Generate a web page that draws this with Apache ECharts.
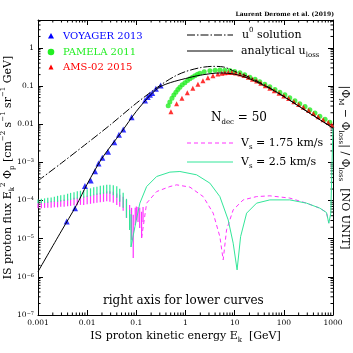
<!DOCTYPE html>
<html><head><meta charset="utf-8">
<script src="https://cdn.jsdelivr.net/npm/echarts@6/dist/echarts.min.js"></script>
<style>html,body{margin:0;padding:0;background:#fff}#c{width:353px;height:353px}</style>
</head><body><div id="c"></div>
<script>
// ---------- tick labels ----------
const xTickExp = [-3, -2, -1, 0, 1, 2, 3];
const xTickText = ['0.001', '0.01', '0.1', '1', '10', '100', '1000'];
const yTickExp = [-7, -6, -5, -4, -3, -2, -1, 0];
const yTickText = ['{b|10}{s|−7}', '{b|10}{s|−6}', '{b|10}{s|−5}', '{b|10}{s|−4}', '{b|10}{s|−3}', '0.01', '0.1', '1'];

// ---------- model curves (left axis) ----------
const u0E = [0.001, 0.003, 0.01, 0.03, 0.1, 0.3, 0.6, 1, 2, 3.6, 6, 10, 20, 50, 100, 300, 1000];
const u0V = [3.3e-4, 9.6e-4, 3.2e-3, 9.8e-3, 0.0356, 0.103, 0.18, 0.24, 0.304, 0.329, 0.316, 0.243, 0.17, 0.092, 0.054, 0.0215, 0.008];
const lossE = [0.001, 0.003, 0.006, 0.01, 0.02, 0.05, 0.1, 0.2, 0.3, 0.5, 1, 2, 5, 10, 20, 50, 100, 300, 1000];
const lossV = [1.37e-6, 1.6e-5, 7.4e-5, 2.7e-4, 1.28e-3, 6.3e-3, 0.0218, 0.061, 0.095, 0.124, 0.158, 0.193, 0.221, 0.205, 0.156, 0.089, 0.053, 0.0213, 0.0079];

// ---------- data ----------
const voyE = [0.00383, 0.00565, 0.00902, 0.01178, 0.01442, 0.0170, 0.0203, 0.0265, 0.0356, 0.0443, 0.0542, 0.0801, 0.150, 0.170, 0.189, 0.210, 0.250, 0.312];
const voyV = [2.81e-5, 6.24e-5, 2.39e-4, 3.33e-4, 5.83e-4, 9.3e-4, 1.32e-3, 1.90e-3, 3.37e-3, 5.3e-3, 7.3e-3, 0.0153, 0.0422, 0.0518, 0.0594, 0.0659, 0.0855, 0.104];
const pamE = [0.445, 0.48, 0.53, 0.58, 0.638, 0.70, 0.769, 0.86, 0.973, 1.10, 1.23, 1.38, 1.55, 1.75, 1.96, 2.4, 3.13, 4.0, 5.0, 6.3, 7.98, 10.0, 12.8, 16, 20.4, 26, 32.5, 41, 51.9, 66, 83, 105, 132, 168, 211, 270, 338, 430, 540, 690, 861];
const pamV = [0.0306, 0.038, 0.0481, 0.058, 0.0692, 0.081, 0.0935, 0.108, 0.123, 0.140, 0.156, 0.171, 0.187, 0.203, 0.218, 0.237, 0.254, 0.262, 0.265, 0.262, 0.256, 0.243, 0.225, 0.199, 0.171, 0.150, 0.130, 0.112, 0.0964, 0.082, 0.0692, 0.059, 0.0497, 0.0415, 0.0345, 0.029, 0.0240, 0.0198, 0.0162, 0.0135, 0.0113];
const amsE = [0.505, 0.659, 0.846, 1.09, 1.41, 1.79, 2.26, 2.85, 3.61, 4.56, 5.5, 6.32, 7.4, 8.77, 10.5, 12.8, 15.5, 19, 23, 28, 34, 42, 52, 64, 80, 100, 125, 160, 200, 250, 320, 400, 500, 630, 800, 950];
const amsV = [0.0213, 0.0345, 0.0481, 0.0671, 0.0881, 0.112, 0.139, 0.166, 0.187, 0.208, 0.218, 0.225, 0.228, 0.228, 0.22, 0.208, 0.19, 0.171, 0.152, 0.135, 0.118, 0.102, 0.088, 0.076, 0.065, 0.055, 0.047, 0.039, 0.033, 0.0278, 0.0228, 0.019, 0.0158, 0.0132, 0.0111, 0.0095];

// ---------- lower curves (right axis) ----------
const bandE = [0.001, 0.00117, 0.00136, 0.00158, 0.00185, 0.00215, 0.0025, 0.0029, 0.0034, 0.004, 0.0046, 0.0054, 0.0063, 0.0073, 0.0085, 0.01, 0.0117, 0.0136, 0.0158, 0.0185, 0.0215, 0.025, 0.029, 0.034, 0.04, 0.046, 0.054, 0.063, 0.073, 0.078];
const greenHi = [1.07e-4, 1.11e-4, 1.14e-4, 1.18e-4, 1.21e-4, 1.25e-4, 1.33e-4, 1.37e-4, 1.41e-4, 1.50e-4, 1.59e-4, 1.64e-4, 1.74e-4, 1.80e-4, 1.85e-4, 1.97e-4, 2.09e-4, 2.22e-4, 2.29e-4, 2.43e-4, 2.50e-4, 2.58e-4, 2.58e-4, 2.50e-4, 2.36e-4, 2.03e-4, 1.59e-4, 1.11e-4, 5.7e-5, 4.4e-5];
const greenLo = [8.5e-5, 8.5e-5, 8.7e-5, 8.7e-5, 9.0e-5, 9.25e-5, 9.25e-5, 9.5e-5, 9.8e-5, 1.01e-4, 1.04e-4, 1.07e-4, 1.11e-4, 1.14e-4, 1.18e-4, 1.25e-4, 1.29e-4, 1.37e-4, 1.41e-4, 1.45e-4, 1.50e-4, 1.54e-4, 1.50e-4, 1.37e-4, 1.18e-4, 9.25e-5, 6.43e-5, 3.52e-5, 1.70e-5, 6.1e-6];
const magBandE = [0.001, 0.00117, 0.00136, 0.00158, 0.00185, 0.00215, 0.0025, 0.0029, 0.0034, 0.004, 0.0046, 0.0054, 0.0063, 0.0073, 0.0085, 0.01, 0.0117, 0.0136, 0.0158, 0.0185, 0.0215, 0.025, 0.029, 0.034, 0.04, 0.046, 0.054, 0.063, 0.073, 0.08, 0.0865, 0.095, 0.1, 0.108, 0.117, 0.128, 0.137];
const magHi = [8.45e-5, 8.7e-5, 8.97e-5, 9.25e-5, 9.53e-5, 9.8e-5, 1.01e-4, 1.04e-4, 1.07e-4, 1.11e-4, 1.14e-4, 1.18e-4, 1.21e-4, 1.25e-4, 1.29e-4, 1.33e-4, 1.41e-4, 1.45e-4, 1.54e-4, 1.59e-4, 1.69e-4, 1.74e-4, 1.74e-4, 1.69e-4, 1.54e-4, 1.41e-4, 1.25e-4, 1.04e-4, 7.7e-5, 6.43e-5, 4.22e-5, 6.43e-5, 6.97e-5, 6.8e-5, 6.43e-5, 5.05e-5, 6.8e-5];
const magLo = [6.24e-5, 6.24e-5, 6.43e-5, 6.43e-5, 6.43e-5, 6.64e-5, 6.64e-5, 6.84e-5, 6.84e-5, 7.05e-5, 7.26e-5, 7.48e-5, 7.48e-5, 7.7e-5, 7.7e-5, 7.94e-5, 8.2e-5, 8.45e-5, 8.7e-5, 8.97e-5, 9.25e-5, 9.53e-5, 9.25e-5, 8.7e-5, 7.7e-5, 6.84e-5, 5.37e-5, 3.52e-5, 1.92e-5, 9.3e-6, 3.13e-6, 2.3e-5, 3.11e-5, 2.76e-5, 1.92e-5, 1.05e-5, 2.76e-5];
const v25E = [0.078, 0.0938, 0.118, 0.162, 0.259, 0.482, 0.769, 1.68, 3.13, 5.0, 7.38, 9.33, 11.2, 13.2, 17.5, 27.9, 51.9, 132, 289, 540, 738, 822, 902, 1000];
const v25V = [6.1e-6, 2.08e-5, 8.55e-5, 2.33e-4, 4.27e-4, 5.56e-4, 5.77e-4, 4.73e-4, 2.86e-4, 1.27e-4, 3.11e-5, 7.62e-6, 1.52e-6, 1.13e-5, 4.67e-5, 8.55e-5, 1.04e-4, 1.04e-4, 8.55e-5, 6.32e-5, 4.84e-5, 2.55e-5, 4.67e-5, 9.7e-3];
const v175E = [0.128, 0.162, 0.259, 0.482, 0.659, 1.23, 2.29, 3.66, 5.0, 5.84, 6.84, 9.33, 14.9, 27.9, 51.9, 132, 289, 540, 738, 822];
const v175V = [1.05e-5, 8.55e-5, 1.72e-4, 2.33e-4, 2.58e-4, 2.25e-4, 1.27e-4, 4.67e-5, 1.13e-5, 2.78e-6, 1.70e-5, 5.7e-5, 1.04e-4, 1.27e-4, 1.33e-4, 1.16e-4, 8.55e-5, 6.32e-5, 4.84e-5, 2.55e-5];

// ---------- styling ----------
const SERIF = '"DejaVu Serif", "Liberation Serif", serif';
const C_BLUE = '#0000ff', C_PAM = '#22ee22', C_RED = '#ff0000', C_MAG = '#ff33ff', C_V25 = '#33e699';
const X_MIN = 0.001, X_MAX = 1000, Y_MIN = 1e-7, Y_MAX = 5.4;

const zip = (a, b) => a.map((v, i) => [v, b[i]]);
const zip3 = (a, b, c) => a.map((v, i) => [v, b[i], c[i]]);

function expOf(v) { const l = Math.log10(v); const e = Math.round(l); return Math.abs(l - e) < 1e-6 ? e : null; }
function xFmt(v) { const e = expOf(v); const i = xTickExp.indexOf(e); return i < 0 ? '' : xTickText[i]; }
function yFmt(v) { const e = expOf(v); const i = yTickExp.indexOf(e); return i < 0 ? '' : yTickText[i]; }

// minor tick positions (axis decoration): 2..9 times each decade
const minorTicks = [];
for (let d = -3; d < 3; d++) for (let k = 2; k <= 9; k++) minorTicks.push([k * Math.pow(10, d), 1, 0]);
for (let d = -7; d <= 0; d++) for (let k = 2; k <= 9; k++) { const v = k * Math.pow(10, d); if (v < Y_MAX) minorTicks.push([1, v, 1]); }

function stripeRender(color) {
  return function (params, api) {
    const a = api.coord([api.value(0), api.value(1)]);
    const b = api.coord([api.value(0), api.value(2)]);
    return { type: 'line', shape: { x1: a[0], y1: a[1], x2: b[0], y2: b[1] }, style: { stroke: color, lineWidth: 1.2 } };
  };
}

const axisCommon = {
  axisLine: { show: true, lineStyle: { color: '#000', width: 1 } },
  axisTick: { show: true, inside: true, length: 5, lineStyle: { color: '#000', width: 1 } },
  splitLine: { show: false },
  minorTick: { show: false },
  nameMoveOverlap: false,
};

const richTxt = {
  n: { fontFamily: SERIF, fontSize: 11, lineHeight: 16, color: '#000' },
  sub: { fontFamily: SERIF, fontSize: 7, lineHeight: 5, verticalAlign: 'bottom', color: '#000' },
  sup: { fontFamily: SERIF, fontSize: 7, lineHeight: 5, verticalAlign: 'top', color: '#000' },
};
function richColored(color, size) {
  return {
    n: { fontFamily: SERIF, fontSize: size, lineHeight: 16, color: color },
    sub: { fontFamily: SERIF, fontSize: 7, lineHeight: 5, verticalAlign: 'bottom', color: color },
    sup: { fontFamily: SERIF, fontSize: 7, lineHeight: 5, verticalAlign: 'top', color: color },
  };
}

const chart = echarts.init(document.getElementById('c'));
chart.setOption({
  animation: false,
  backgroundColor: '#fff',
  grid: { left: 38, right: 20, top: 20, bottom: 38, containLabel: false, outerBoundsMode: 'none' },
  xAxis: [
    Object.assign({}, axisCommon, {
      type: 'log', min: X_MIN, max: X_MAX, position: 'bottom',
      axisLabel: { formatter: xFmt, fontFamily: SERIF, fontSize: 7.5, color: '#000', margin: 4, showMinLabel: true, showMaxLabel: true },
      name: '{n|IS proton kinetic energy E}{sub|k}{n|  [GeV]}', nameLocation: 'middle', nameGap: 13,
      nameTextStyle: { rich: richTxt },
    }),
    Object.assign({}, axisCommon, {
      type: 'log', min: X_MIN, max: X_MAX, position: 'top', axisLabel: { show: false },
    }),
  ],
  yAxis: [
    Object.assign({}, axisCommon, {
      type: 'log', min: Y_MIN, max: Y_MAX, position: 'left',
      axisLabel: {
        formatter: yFmt, fontFamily: SERIF, fontSize: 7.5, color: '#000', margin: 4,
        rich: { b: { fontFamily: SERIF, fontSize: 7.5, color: '#000' }, s: { fontFamily: SERIF, fontSize: 5, verticalAlign: 'top', lineHeight: 4, color: '#000' } },
      },
      name: '{n|IS proton flux E}{sub|k}{sup|2}{n| Φ}{sub|p}{n| [cm}{sup|−2}{n| s}{sup|−1}{n| sr}{sup|−1}{n| GeV]}',
      nameLocation: 'middle', nameGap: 22, nameRotate: 90,
      nameTextStyle: { rich: richTxt },
    }),
    Object.assign({}, axisCommon, {
      type: 'log', min: Y_MIN, max: Y_MAX, position: 'right', axisLabel: { show: false },
      name: '{n||Φ}{sub|M}{n| − Φ}{sub|loss}{n|| / Φ}{sub|loss}{n|  [NO UNIT]}',
      nameLocation: 'middle', nameGap: 4, nameRotate: -90,
      nameTextStyle: { rich: richTxt },
    }),
  ],
  series: [
    { type: 'custom', name: 'minorTicks', xAxisIndex: 0, yAxisIndex: 0, clip: false, silent: true, z: 1,
      renderItem: function (params, api) {
        const cs = params.coordSys; const L = 2.5;
        if (api.value(2) === 0) {
          const x = api.coord([api.value(0), 1])[0];
          return { type: 'group', children: [
            { type: 'line', shape: { x1: x, y1: cs.y + cs.height, x2: x, y2: cs.y + cs.height - L }, style: { stroke: '#000', lineWidth: 1 } },
            { type: 'line', shape: { x1: x, y1: cs.y, x2: x, y2: cs.y + L }, style: { stroke: '#000', lineWidth: 1 } } ] };
        }
        const y = api.coord([1, api.value(1)])[1];
        return { type: 'group', children: [
          { type: 'line', shape: { x1: cs.x, y1: y, x2: cs.x + L, y2: y }, style: { stroke: '#000', lineWidth: 1 } },
          { type: 'line', shape: { x1: cs.x + cs.width, y1: y, x2: cs.x + cs.width - L, y2: y }, style: { stroke: '#000', lineWidth: 1 } } ] };
      },
      data: minorTicks },
    { type: 'custom', name: 'Vs175band', xAxisIndex: 0, yAxisIndex: 1, silent: true, z: 2,
      renderItem: stripeRender(C_MAG), encode: { x: 0, y: [1, 2] }, data: zip3(magBandE, magLo, magHi) },
    { type: 'custom', name: 'Vs25band', xAxisIndex: 0, yAxisIndex: 1, silent: true, z: 3,
      renderItem: stripeRender(C_V25), encode: { x: 0, y: [1, 2] }, data: zip3(bandE, greenLo, greenHi) },
    { type: 'line', name: 'Vs175', xAxisIndex: 0, yAxisIndex: 1, data: zip(v175E, v175V), showSymbol: false, z: 3,
      lineStyle: { color: C_MAG, width: 1, type: [4, 3] } },
    { type: 'line', name: 'Vs25', xAxisIndex: 0, yAxisIndex: 1, data: zip(v25E, v25V), showSymbol: false, z: 4,
      lineStyle: { color: C_V25, width: 1 } },
    { type: 'scatter', name: 'VOYAGER 2013', data: zip(voyE, voyV), symbol: 'triangle', symbolSize: 6,
      itemStyle: { color: C_BLUE }, z: 5 },
    { type: 'scatter', name: 'PAMELA 2011', data: zip(pamE, pamV), symbol: 'circle', symbolSize: 5,
      itemStyle: { color: C_PAM }, z: 5 },
    { type: 'scatter', name: 'AMS-02 2015', data: zip(amsE, amsV), symbol: 'triangle', symbolSize: 5,
      itemStyle: { color: C_RED }, z: 6 },
    { type: 'line', name: 'u0', data: zip(u0E, u0V), showSymbol: false, smooth: 0.3, z: 7,
      lineStyle: { color: '#000', width: 1, type: [8, 2, 1.5, 2] } },
    { type: 'line', name: 'uloss', data: zip(lossE, lossV), showSymbol: false, smooth: 0.3, z: 7,
      lineStyle: { color: '#000', width: 1 } },
  ],
  graphic: [
    { type: 'text', x: 334, y: 14, style: { text: 'Laurent Derome et al. (2019)', font: 'bold 6px ' + SERIF, fill: '#000', align: 'right', verticalAlign: 'middle' } },
    { type: 'polygon', shape: { points: [[48, 38.5], [54, 38.5], [51, 33]] }, style: { fill: C_BLUE } },
    { type: 'text', x: 63, y: 36, style: { text: 'VOYAGER 2013', font: '10px ' + SERIF, fill: C_BLUE, verticalAlign: 'middle' } },
    { type: 'circle', shape: { cx: 51, cy: 52, r: 3.3 }, style: { fill: C_PAM } },
    { type: 'text', x: 63, y: 52, style: { text: 'PAMELA 2011', font: '10px ' + SERIF, fill: C_PAM, verticalAlign: 'middle' } },
    { type: 'polygon', shape: { points: [[48.5, 69.5], [53.5, 69.5], [51, 64.5]] }, style: { fill: C_RED } },
    { type: 'text', x: 63, y: 67, style: { text: 'AMS-02 2015', font: '10px ' + SERIF, fill: C_RED, verticalAlign: 'middle' } },
    { type: 'line', shape: { x1: 187, y1: 35, x2: 233, y2: 35 }, style: { stroke: '#000', lineWidth: 1, lineDash: [8, 2, 1.5, 2] } },
    { type: 'text', x: 242, y: 35, style: { text: '{n|u}{sup|0}{n| solution}', rich: richTxt, verticalAlign: 'middle' } },
    { type: 'line', shape: { x1: 187, y1: 51, x2: 233, y2: 51 }, style: { stroke: '#000', lineWidth: 1 } },
    { type: 'text', x: 241, y: 51, style: { text: '{n|analytical u}{sub|loss}', rich: richTxt, verticalAlign: 'middle' } },
    { type: 'text', x: 211, y: 118, style: { text: '{n|N}{sub|dec}{n| = 50}', rich: richColored('#000', 12), verticalAlign: 'middle' } },
    { type: 'line', shape: { x1: 187, y1: 143, x2: 233, y2: 143 }, style: { stroke: C_MAG, lineWidth: 1, lineDash: [4, 3] } },
    { type: 'text', x: 241, y: 143, style: { text: '{n|V}{sub|s}{n| = 1.75 km/s}', rich: richColored(C_MAG, 11), verticalAlign: 'middle' } },
    { type: 'line', shape: { x1: 187, y1: 162, x2: 233, y2: 162 }, style: { stroke: C_V25, lineWidth: 1 } },
    { type: 'text', x: 241, y: 162, style: { text: '{n|V}{sub|s}{n| = 2.5 km/s}', rich: richColored(C_V25, 11), verticalAlign: 'middle' } },
    { type: 'text', x: 103, y: 301, style: { text: 'right axis for lower curves', font: '12px ' + SERIF, fill: '#000', verticalAlign: 'middle' } },
  ],
});
</script></body></html>
